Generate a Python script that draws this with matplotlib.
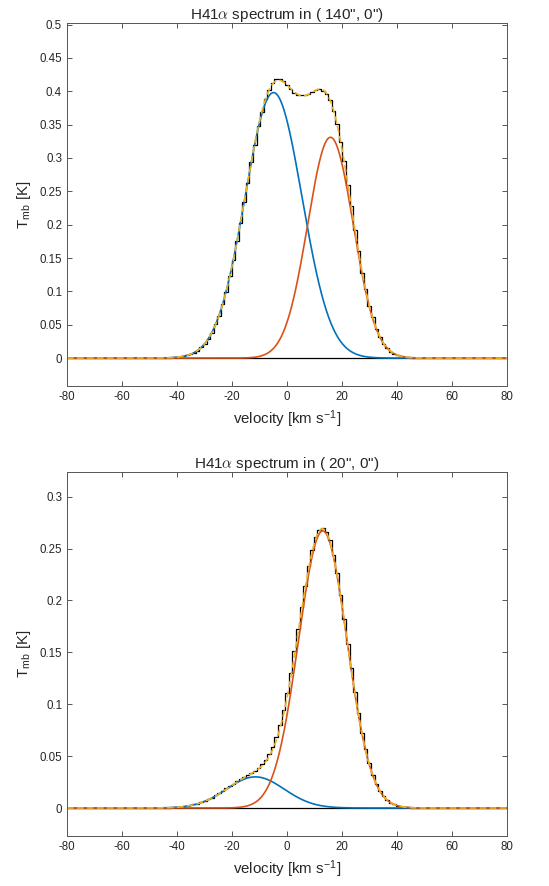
import numpy as np
import matplotlib
matplotlib.use("Agg")
import matplotlib.pyplot as plt
from matplotlib.ticker import FuncFormatter

plt.rcParams['font.family'] = ['Liberation Sans', 'DejaVu Sans']
plt.rcParams['mathtext.fontset'] = 'cm'
plt.rcParams['axes.unicode_minus'] = False

# channel width of the spectra [km/s]
chan = 1.3

# observed spectrum, offset (140", 0"), first listed channel at obs_top_start
obs_top_start = -50.7
obs_top = [0.0000, 0.0001, 0.0001, 0.0002, 0.0002, 0.0003, 0.0005, 0.0009, 0.0012, 0.0019,
           0.0028, 0.0041, 0.0058, 0.0083, 0.0112, 0.0161, 0.0213, 0.0292, 0.0380, 0.0505,
           0.0636, 0.0815, 0.0992, 0.1228, 0.1463, 0.1748, 0.2020, 0.2342, 0.2620, 0.2935,
           0.3200, 0.3480, 0.3690, 0.3890, 0.4020, 0.4120, 0.4190, 0.4180, 0.4150, 0.4090,
           0.4030, 0.3980, 0.3950, 0.3940, 0.3950, 0.3960, 0.3990, 0.4020, 0.4030, 0.4010,
           0.3960, 0.3870, 0.3700, 0.3510, 0.3240, 0.2950, 0.2600, 0.2280, 0.1920, 0.1610,
           0.1280, 0.1030, 0.0780, 0.0610, 0.0430, 0.0320, 0.0210, 0.0150, 0.0095, 0.0065,
           0.0040, 0.0025, 0.0015, 0.0010]

# observed spectrum, offset (20", 0")
obs_bot_start = -45.5
obs_bot = [0.0002, 0.0002, 0.0004, 0.0005, 0.0008, 0.0010, 0.0014, 0.0019, 0.0025, 0.0034,
           0.0043, 0.0055, 0.0068, 0.0084, 0.0101, 0.0121, 0.0142, 0.0165, 0.0188, 0.0213,
           0.0236, 0.0258, 0.0279, 0.0298, 0.0318, 0.0338, 0.0360, 0.0386, 0.0420, 0.0462,
           0.0518, 0.0590, 0.0685, 0.0800, 0.0945, 0.1110, 0.1300, 0.1510, 0.1720, 0.1940,
           0.2140, 0.2330, 0.2490, 0.2610, 0.2680, 0.2700, 0.2660, 0.2580, 0.2440, 0.2260,
           0.2050, 0.1820, 0.1580, 0.1350, 0.1120, 0.0915, 0.0725, 0.0565, 0.0430, 0.0320,
           0.0233, 0.0165, 0.0116, 0.0079, 0.0053, 0.0035, 0.0022, 0.0014, 0.0008, 0.0005,
           0.0003]

# gaussian fit components: amplitude [K], centre [km/s], FWHM [km/s]
fit_top = [(0.398, -4.9, 24.4), (0.331, 15.8, 19.5)]
fit_bot = [(0.030, -11.5, 24.7), (0.267, 13.0, 20.7)]

titles = ['H41$\\alpha$ spectrum in ( 140", 0")', 'H41$\\alpha$ spectrum in ( 20", 0")']

c_blue = '#0072BD'
c_red = '#D95319'
c_yellow = '#EDB120'
c_text = '#262626'
c_frame = '#555555'


def gauss(v, amp, cen, fwhm):
    s = fwhm / 2.3548
    return amp * np.exp(-(v - cen) ** 2 / (2 * s ** 2))


def tick_fmt(val, pos):
    return f'{val:g}'


def draw_panel(ax, start, obs, fits, title):
    n_left = int((start + 80) / chan) + 2
    n_right = int((80 - start) / chan) - len(obs) + 2
    vel = start + chan * np.arange(-n_left, len(obs) + n_right)
    t = np.concatenate([np.zeros(n_left), obs, np.zeros(n_right)])
    ax.step(vel, t, where='mid', color='k', lw=0.9)
    ax.plot([-80, 80], [0, 0], color='k', lw=0.9)

    v = np.linspace(-80, 80, 1601)
    total = np.zeros_like(v)
    for (amp, cen, fwhm), col in zip(fits, [c_blue, c_red]):
        g = gauss(v, amp, cen, fwhm)
        total += g
        ax.plot(v, g, color=col, lw=1.2)
    ax.plot(v, total, color=c_yellow, lw=1.2, ls=(0, (4, 2)))

    peak = max(obs)
    ax.set_xlim(-80, 80)
    ax.set_ylim(-0.1 * peak, 1.2 * peak)
    ax.set_xticks(np.arange(-80, 81, 20))
    ax.set_yticks(np.arange(0, 1.2 * peak, 0.05))
    ax.yaxis.set_major_formatter(FuncFormatter(tick_fmt))
    ax.tick_params(direction='in', top=True, right=True, length=3.5, width=0.7,
                   color=c_frame, labelsize=8.3, labelcolor=c_text, pad=3.5)
    for sp in ax.spines.values():
        sp.set_color(c_frame)
        sp.set_linewidth(0.7)
    ax.set_title(title, fontsize=11, pad=3, color=c_text)
    ax.set_xlabel('velocity [km s$^{\\mathregular{-1}}$]', fontsize=10.8, color=c_text,
                  labelpad=4)
    ax.set_ylabel('T$_{\\mathregular{mb}}$ [K]', fontsize=10.8, color=c_text, labelpad=5)


fig = plt.figure(figsize=(5.49, 8.86), dpi=100)
ax1 = fig.add_axes([0.122, 0.5643, 0.8015, 0.4101])
ax2 = fig.add_axes([0.122, 0.0564, 0.8015, 0.4112])

draw_panel(ax1, obs_top_start, obs_top, fit_top, titles[0])
draw_panel(ax2, obs_bot_start, obs_bot, fit_bot, titles[1])

fig.savefig('out.png', dpi=100)
